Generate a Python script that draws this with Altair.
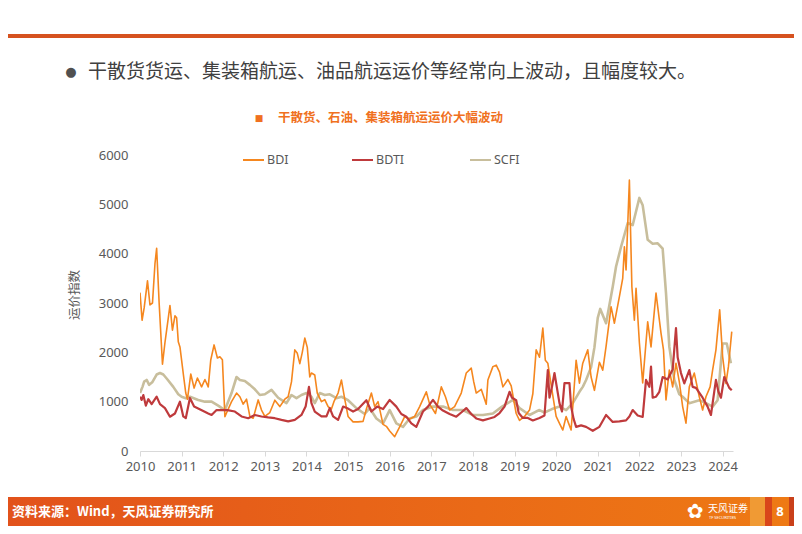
import altair as alt
import pandas as pd

# ---------------- data ----------------
series_names = ["BDI", "BDTI", "SCFI"]
series_colors = ["#F5871F", "#BF3A3C", "#C8BE9C"]
series_widths = [1.6, 2.2, 2.6]

bdi_t = [2010.00, 2010.05, 2010.10, 2010.18, 2010.24, 2010.30, 2010.36, 2010.40, 2010.46, 2010.54,
         2010.60, 2010.68, 2010.72, 2010.78, 2010.84, 2010.88, 2010.92, 2010.96, 2011.05, 2011.10,
         2011.14, 2011.22, 2011.30, 2011.38, 2011.48, 2011.56, 2011.64, 2011.70, 2011.78, 2011.86,
         2011.92, 2011.98, 2012.04, 2012.10, 2012.20, 2012.32, 2012.40, 2012.48, 2012.56, 2012.64,
         2012.72, 2012.84, 2012.92, 2013.00, 2013.12, 2013.24, 2013.36, 2013.48, 2013.56, 2013.64,
         2013.72, 2013.78, 2013.84, 2013.90, 2013.96, 2014.02, 2014.08, 2014.12, 2014.20, 2014.26,
         2014.36, 2014.44, 2014.52, 2014.60, 2014.66, 2014.76, 2014.84, 2014.92, 2015.00, 2015.12,
         2015.24, 2015.36, 2015.44, 2015.56, 2015.64, 2015.72, 2015.84, 2015.92, 2016.00, 2016.12,
         2016.24, 2016.36, 2016.48, 2016.60, 2016.72, 2016.88, 2016.96, 2017.10, 2017.24, 2017.34,
         2017.44, 2017.56, 2017.72, 2017.84, 2017.96, 2018.02, 2018.08, 2018.20, 2018.32, 2018.36,
         2018.48, 2018.56, 2018.64, 2018.72, 2018.84, 2018.92, 2019.04, 2019.12, 2019.24, 2019.36,
         2019.44, 2019.52, 2019.60, 2019.68, 2019.74, 2019.80, 2019.90, 2020.00, 2020.08, 2020.16,
         2020.24, 2020.30, 2020.36, 2020.48, 2020.56, 2020.64, 2020.76, 2020.84, 2020.92, 2021.04,
         2021.12, 2021.20, 2021.32, 2021.40, 2021.52, 2021.60, 2021.64, 2021.68, 2021.76, 2021.82,
         2021.88, 2021.92, 2022.00, 2022.08, 2022.20, 2022.28, 2022.40, 2022.52, 2022.58, 2022.64,
         2022.72, 2022.80, 2022.88, 2022.96, 2023.04, 2023.12, 2023.20, 2023.32, 2023.44, 2023.52,
         2023.60, 2023.70, 2023.76, 2023.84, 2023.93, 2024.00, 2024.08, 2024.14, 2024.22]
bdi_v = [3210, 2650, 2900, 3450, 2960, 3000, 3800, 4110, 3000, 1760,
         2200, 2700, 2950, 2450, 2740, 2700, 2215, 2110, 1500, 1175,
         1050, 1560, 1275, 1480, 1300, 1450, 1300, 1845, 2150, 1885,
         1910, 1850, 695, 810, 1000, 1175, 1100, 950, 1050, 700,
         665, 1035, 830, 700, 780, 1030, 900, 1050, 1100, 1400,
         2050, 1980, 1770, 2000, 2290, 2100, 1500, 1580, 1540, 1175,
         1000, 1040, 900, 850, 1000, 1175, 1440, 1050, 700, 590,
         590, 600, 850, 1175, 900, 1000, 540, 500, 405, 290,
         490, 695, 650, 700, 900, 1200, 950, 760, 1300, 1100,
         830, 900, 1175, 1580, 1680, 1400, 1175, 1250, 950, 1440,
         1710, 1740, 1600, 1300, 1450, 1320, 760, 620, 700, 830,
         1160, 2050, 1900, 2490, 1840, 1780, 1230, 700, 560, 425,
         700, 560, 425, 1840, 1375, 1780, 2050, 1500, 1230, 1800,
         1640, 2120, 2925, 2590, 3130, 3500, 4140, 3670, 5490, 3330,
         2650, 3300, 2200, 1380, 2620, 2110, 3200, 2390, 2050, 1035,
         1640, 1300, 1780, 1400, 900, 565, 1300, 1580, 1100, 830,
         1100, 1300, 1640, 2050, 2860, 1920, 1370, 1710, 2420]

bdti_t = [2010.00, 2010.04, 2010.08, 2010.14, 2010.20, 2010.28, 2010.40, 2010.48, 2010.60, 2010.72,
          2010.84, 2010.96, 2011.04, 2011.10, 2011.20, 2011.30, 2011.52, 2011.64, 2011.72, 2011.84,
          2011.96, 2012.10, 2012.28, 2012.44, 2012.60, 2012.76, 2012.92, 2013.08, 2013.24, 2013.40,
          2013.56, 2013.72, 2013.88, 2013.98, 2014.06, 2014.12, 2014.20, 2014.36, 2014.48, 2014.56,
          2014.64, 2014.76, 2014.88, 2015.00, 2015.12, 2015.24, 2015.44, 2015.56, 2015.70, 2015.84,
          2016.00, 2016.16, 2016.28, 2016.40, 2016.52, 2016.64, 2016.80, 2016.92, 2017.04, 2017.16,
          2017.28, 2017.44, 2017.60, 2017.72, 2017.84, 2017.96, 2018.08, 2018.24, 2018.40, 2018.52,
          2018.64, 2018.76, 2018.88, 2018.94, 2019.04, 2019.10, 2019.20, 2019.32, 2019.44, 2019.60,
          2019.72, 2019.80, 2019.84, 2019.90, 2019.96, 2020.08, 2020.14, 2020.20, 2020.32, 2020.36,
          2020.42, 2020.48, 2020.60, 2020.72, 2020.88, 2021.04, 2021.20, 2021.36, 2021.52, 2021.68,
          2021.76, 2021.84, 2021.96, 2022.08, 2022.16, 2022.24, 2022.28, 2022.32, 2022.40, 2022.48,
          2022.56, 2022.68, 2022.80, 2022.88, 2022.92, 2023.00, 2023.08, 2023.20, 2023.28, 2023.36,
          2023.52, 2023.64, 2023.72, 2023.84, 2023.90, 2023.96, 2024.04, 2024.16, 2024.22]
bdti_v = [1100, 1035, 1135, 920, 1050, 950, 1100, 950, 870, 695,
          760, 1000, 700, 665, 1075, 900, 810, 760, 730, 830,
          830, 830, 800, 700, 665, 730, 700, 680, 665, 630,
          600, 630, 730, 900, 1300, 970, 800, 700, 700, 870,
          700, 630, 900, 860, 800, 850, 1030, 800, 900, 850,
          1035, 900, 750, 695, 560, 490, 800, 900, 1035, 900,
          820, 750, 695, 780, 870, 750, 660, 620, 660, 690,
          770, 900, 1200, 1080, 1030, 770, 670, 670, 620, 670,
          720, 1640, 1080, 1300, 1580, 970, 800, 1375, 1375, 900,
          650, 490, 520, 490, 410, 490, 730, 590, 600, 620,
          700, 830, 720, 690, 1440, 1300, 1710, 1080, 1100, 1200,
          1500, 1450, 1650, 2490, 1900, 1580, 1370, 1640, 1300, 1280,
          1080, 900, 730, 1440, 1200, 1080, 1500, 1280, 1230]

scfi_t = [2010.00, 2010.06, 2010.10, 2010.16, 2010.22, 2010.30, 2010.40, 2010.48, 2010.56, 2010.66,
          2010.80, 2010.92, 2011.00, 2011.10, 2011.20, 2011.40, 2011.56, 2011.72, 2011.88, 2012.00,
          2012.04, 2012.20, 2012.32, 2012.40, 2012.52, 2012.64, 2012.76, 2012.88, 2013.00, 2013.16,
          2013.32, 2013.52, 2013.64, 2013.76, 2013.88, 2014.00, 2014.12, 2014.20, 2014.32, 2014.44,
          2014.56, 2014.72, 2014.84, 2015.00, 2015.20, 2015.40, 2015.52, 2015.68, 2015.84, 2016.00,
          2016.16, 2016.32, 2016.48, 2016.64, 2016.80, 2017.04, 2017.28, 2017.52, 2017.76, 2018.00,
          2018.24, 2018.48, 2018.70, 2018.96, 2019.12, 2019.36, 2019.52, 2019.60, 2019.72, 2019.90,
          2020.08, 2020.24, 2020.40, 2020.56, 2020.64, 2020.72, 2020.84, 2020.92, 2021.00, 2021.06,
          2021.20, 2021.36, 2021.44, 2021.56, 2021.72, 2021.84, 2022.00, 2022.08, 2022.20, 2022.32,
          2022.44, 2022.56, 2022.64, 2022.72, 2022.84, 2022.96, 2023.04, 2023.20, 2023.44, 2023.60,
          2023.76, 2023.88, 2024.00, 2024.10, 2024.20]
scfi_v = [1175, 1300, 1405, 1440, 1340, 1400, 1550, 1580, 1550, 1450,
          1300, 1150, 1100, 1070, 1100, 1035, 1000, 1000, 920, 850,
          830, 1175, 1500, 1440, 1420, 1340, 1250, 1135, 1150, 1240,
          1080, 970, 1135, 1070, 1135, 1175, 1100, 970, 1175, 1135,
          1150, 1070, 1100, 1030, 870, 750, 870, 660, 560, 830,
          560, 490, 660, 700, 830, 900, 900, 830, 830, 730,
          730, 760, 900, 1035, 870, 730, 800, 830, 780, 850,
          900, 830, 970, 1200, 1300, 1440, 1700, 2100, 2700, 2880,
          2590, 3330, 3740, 4140, 4620, 4580, 5130, 4980, 4280, 4200,
          4210, 4100, 3200, 2110, 1440, 1150, 1100, 970, 1030, 970,
          900, 1030, 2180, 2180, 1780]

year_ticks = list(range(2010, 2025))
y_ticks = [0, 1000, 2000, 3000, 4000, 5000, 6000]

header_text = "干散货货运、集装箱航运、油品航运运价等经常向上波动，且幅度较大。"
chart_title = "干散货、石油、集装箱航运运价大幅波动"
y_title = "运价指数"
source_text = "资料来源：Wind，天风证券研究所"
page_no = "8"

# ---------------- build ----------------
W, H = 593, 296
CJK = "Noto Sans CJK SC"
LAT = "Noto Sans"
GREY = "#595959"

frames = {
    "BDI": pd.DataFrame({"t": bdi_t, "v": bdi_v}),
    "BDTI": pd.DataFrame({"t": bdti_t, "v": bdti_v}),
    "SCFI": pd.DataFrame({"t": scfi_t, "v": scfi_v}),
}

x_enc = alt.X("t:Q", scale=alt.Scale(domain=[2010, 2024.25], nice=False, zero=False),
              axis=alt.Axis(values=year_ticks, format="d", grid=False, title=None,
                            domainColor="#D9D9D9", tickColor="#D9D9D9", tickSize=5,
                            labelFontSize=13, labelColor=GREY, labelFont=LAT, labelPadding=4,
                            labelFlush=False))
y_enc = alt.Y("v:Q", scale=alt.Scale(domain=[0, 6000], nice=False),
              axis=alt.Axis(values=y_ticks, format="d", grid=False, domain=False, ticks=False,
                            title=None, labelFontSize=13, labelColor=GREY, labelFont=LAT,
                            labelPadding=12))

layers = []
draw_order = ["SCFI", "BDI", "BDTI"]
for i, name in enumerate(draw_order):
    idx = series_names.index(name)
    enc = dict(x=x_enc, y=y_enc) if i == 0 else dict(x="t:Q", y="v:Q")
    layers.append(
        alt.Chart(frames[name]).mark_line(color=series_colors[idx], strokeWidth=series_widths[idx],
                                          strokeJoin="round", clip=True).encode(**enc)
    )

one = pd.DataFrame({"a": [0]})

def txt(text, x, y, size, color=GREY, font=CJK, weight="normal", align="left", angle=0):
    kw = dict(text=text, fontSize=size, color=color, font=font, fontWeight=weight,
              align=align, baseline="middle")
    if angle:
        kw["angle"] = angle
    return alt.Chart(one).mark_text(**kw).encode(x=alt.value(x), y=alt.value(y))

# legend (manual, matching reference placement)
legend_x = [103, 212, 330]
for name, lx in zip(series_names, legend_x):
    idx = series_names.index(name)
    layers.append(alt.Chart(one).mark_rule(color=series_colors[idx], strokeWidth=2).encode(
        x=alt.value(lx), x2=alt.value(lx + 21), y=alt.value(5)))
    layers.append(txt(name, lx + 24, 5, 12.5, font=LAT))

# header
layers.append(alt.Chart(one).mark_rule(color="#D6521F", strokeWidth=4).encode(
    x=alt.value(-132), x2=alt.value(654), y=alt.value(-119)))
layers.append(txt("●", -69, -83, 13, color="#505050", font="DejaVu Sans", align="center"))
layers.append(txt(header_text, -52, -83, 19, color="#404040"))

# chart title
layers.append(txt("■", 119, -37, 9, color="#F07020", font="DejaVu Sans", align="center"))
layers.append(txt(chart_title, 138, -37, 12.5, color="#F07020", weight="bold"))

# y title
layers.append(txt(y_title, -65, 140, 12.5, align="center", angle=270))

# footer
grad = alt.LinearGradient(gradient="linear", x1=0, x2=1, y1=0, y2=0,
                          stops=[alt.GradientStop(color="#E2521B", offset=0),
                                 alt.GradientStop(color="#EA6A17", offset=0.6),
                                 alt.GradientStop(color="#EE7A14", offset=1)])
layers.append(alt.Chart(one).mark_rect(color=grad).encode(
    x=alt.value(-132), x2=alt.value(654), y=alt.value(342), y2=alt.value(371)))
layers.append(alt.Chart(one).mark_rect(color="#F09A34").encode(
    x=alt.value(610), x2=alt.value(625), y=alt.value(342), y2=alt.value(371)))
layers.append(alt.Chart(one).mark_rect(color="#D9461A").encode(
    x=alt.value(625), x2=alt.value(632), y=alt.value(342), y2=alt.value(371)))
layers.append(alt.Chart(one).mark_rect(color="#C9401A").encode(
    x=alt.value(649), x2=alt.value(654), y=alt.value(342), y2=alt.value(371)))
layers.append(txt(source_text, -128, 357, 13, color="white", weight="bold"))
layers.append(txt("✿", 555, 357, 20, color="white", font="DejaVu Sans", align="center"))
layers.append(txt("天风证券", 568, 354, 10, color="white"))
layers.append(txt("TF SECURITIES", 569, 363, 4, color="white", font=LAT))
layers.append(txt(page_no, 640, 357, 13, color="white", font=LAT, weight="bold", align="center"))

chart = alt.layer(*layers).properties(
    width=W, height=H,
    autosize=alt.AutoSizeParams(type="none"),
    padding={"left": 132, "top": 147, "right": 61, "bottom": 75},
    background="white",
).configure_view(stroke=None)

chart.save("out.html", embed_options={"renderer": "svg", "actions": False})
